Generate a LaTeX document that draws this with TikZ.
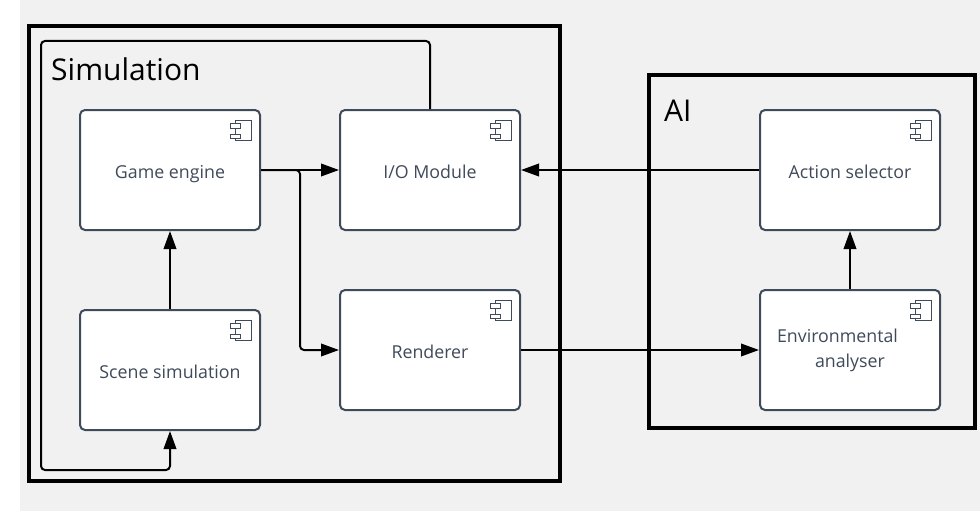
\documentclass[tikz,border=0pt]{standalone}
\usepackage{fontspec}
\setmainfont{Open Sans}
\usetikzlibrary{arrows.meta}
\definecolor{pagegrey}{HTML}{F1F1F1}
\definecolor{boxline}{HTML}{3F4A5A}
\definecolor{boxtext}{HTML}{3F4A5A}
\tikzset{
  compbox/.style={draw=boxline,line width=2pt,fill=white,rounded corners=5pt,minimum width=180pt,minimum height=120pt,inner sep=0pt},
  boxlabel/.style={text=boxtext,font=\fontsize{17.8}{21}\selectfont,inner sep=0pt,anchor=base},
  grouptitle/.style={text=black,font=\fontsize{30}{36}\selectfont,inner sep=0pt,anchor=base west},
  envtext/.style={text=boxtext,font=\fontsize{17.8}{24.5}\selectfont,inner sep=0pt,align=left},
  link/.style={draw=black,line width=2pt,rounded corners=4pt},
  linkarrow/.style={link,-{Triangle[length=18pt,width=12.5pt]}},
  iconline/.style={draw=boxline,line width=1pt,fill=white}
}
\newcommand{\compicon}[1]{%
  \path[iconline] ([shift={(-25.5,11)}]#1.north east) rectangle ([shift={(-10,31.5)}]#1.north east);
  \path[iconline] ([shift={(-30.5,14.5)}]#1.north east) rectangle ([shift={(-20.5,19)}]#1.north east);
  \path[iconline] ([shift={(-30.5,25)}]#1.north east) rectangle ([shift={(-20.5,29)}]#1.north east);
}
\begin{document}
\begin{tikzpicture}[x=1pt,y=-1pt]
\useasboundingbox (0,0) rectangle (980,511);
\fill[pagegrey] (20,0) rectangle (980,511);
\draw[draw=black,line width=4pt] (28.8,26) rectangle (560,481);
\draw[draw=black,line width=4pt] (648.8,75) rectangle (975,428);
\node[grouptitle] (simtitle) at (51,81) {Simulation};
\node[grouptitle] (aititle) at (664,121.5) {AI};
\node[compbox] (game) at (170,170) {};
\node[compbox] (io) at (430,170) {};
\node[compbox] (scene) at (170,370) {};
\node[compbox] (rend) at (430,350) {};
\node[compbox] (action) at (850,170) {};
\node[compbox] (env) at (850,350) {};
\node[boxlabel] (gamelabel) at (170,178) {Game engine};
\node[boxlabel] (iolabel) at (430,178) {I/O Module};
\node[boxlabel] (scenelabel) at (170,378) {Scene simulation};
\node[boxlabel] (rendlabel) at (430,358) {Renderer};
\node[boxlabel] (actionlabel) at (850,178) {Action selector};
\node[envtext] (envlabel) at (837.5,350.5) {Environmental\\\hspace*{38pt}analyser};
\compicon{game}\compicon{io}\compicon{scene}\compicon{rend}\compicon{action}\compicon{env}
\coordinate (topright) at (430,41);
\coordinate (topleft) at (41,41);
\coordinate (botleft) at (41,470);
\coordinate (botright) at (170,470);
\coordinate (split) at (300,170);
\draw[linkarrow] (io.north) -- (topright) -- (topleft) -- (botleft) -- (botright) -- (scene.south);
\draw[linkarrow] (scene.north) -- (game.south);
\draw[linkarrow] (game.east) -- (io.west);
\draw[linkarrow] (game.east) -- (split) -- (split |- rend.west) -- (rend.west);
\draw[linkarrow] (action.west) -- (io.east);
\draw[linkarrow] (rend.east) -- (env.west);
\draw[linkarrow] (env.north) -- (action.south);
\end{tikzpicture}
\end{document}
